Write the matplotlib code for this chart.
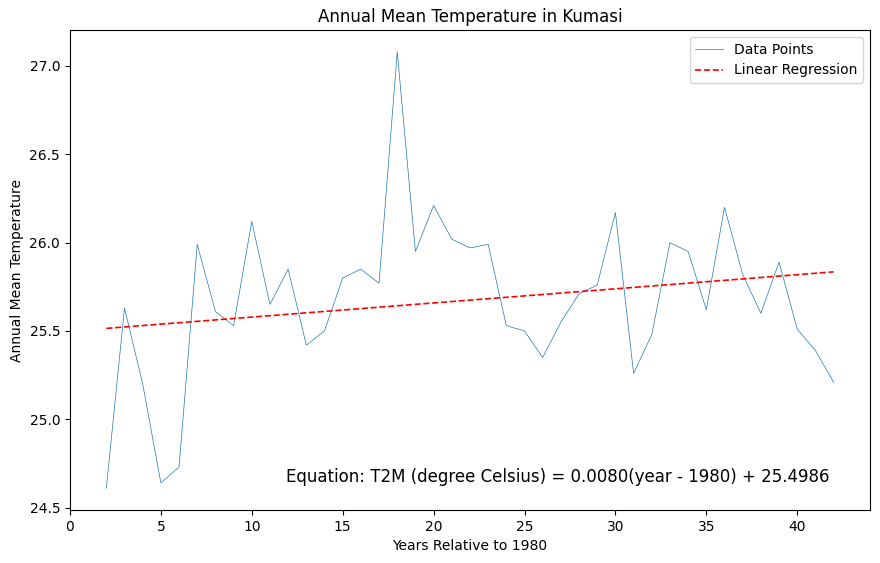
import matplotlib
matplotlib.use("Agg")
import matplotlib.pyplot as plt
import numpy as np

years = list(range(2, 43))
temps = [24.61, 25.63, 25.20, 24.64, 24.73, 25.99, 25.61, 25.53, 26.12, 25.65,
         25.85, 25.42, 25.50, 25.80, 25.85, 25.77, 27.08, 25.95, 26.21, 26.02,
         25.97, 25.99, 25.53, 25.50, 25.35, 25.55, 25.71, 25.76, 26.17, 25.26,
         25.48, 26.00, 25.95, 25.62, 26.20, 25.82, 25.60, 25.89, 25.51, 25.39,
         25.21]
slope = 0.0080
intercept = 25.4986

fig = plt.figure(figsize=(8.8, 5.63), dpi=100)
ax = fig.add_axes([0.0795, 0.0941, 0.9091, 0.8526])
x = np.array(years)
ax.plot(x, temps, linewidth=0.5, color='C0', label='Data Points')
ax.plot(x, slope * x + intercept, 'r--', linewidth=1.2, label='Linear Regression')
ax.set_title('Annual Mean Temperature in Kumasi')
ax.set_xlabel('Years Relative to 1980')
ax.set_ylabel('Annual Mean Temperature')
ax.set_xlim(0, 44)
ax.legend(loc='upper right')
ax.text(0.95, 0.05, f'Equation: T2M (degree Celsius) = {slope:.4f}(year - 1980) + {intercept:.4f}',
        transform=ax.transAxes, ha='right', va='bottom', fontsize=12)
fig.savefig('out.png', dpi=100)
